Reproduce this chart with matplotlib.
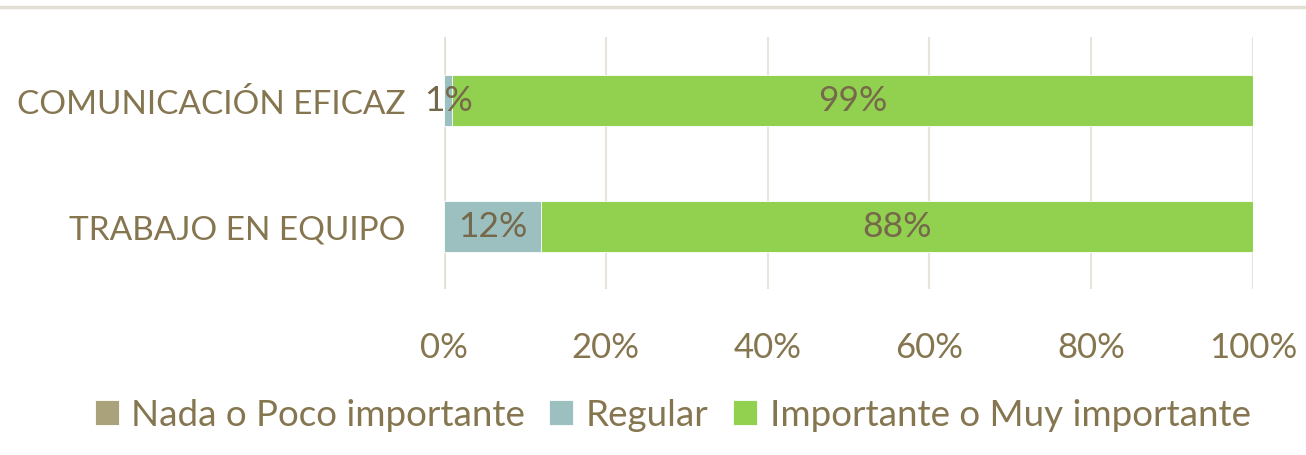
import numpy as np
import matplotlib.pyplot as plt
from matplotlib.ticker import PercentFormatter

categories = ["TRABAJO EN EQUIPO", "COMUNICACIÓN EFICAZ"]
series = ["Nada o Poco importante", "Regular", "Importante o Muy importante"]
nada = [0, 0]
regular = [12, 1]
importante = [88, 99]
colors = ["#A9A27A", "#9CC0BF", "#92D050"]

text_color = "#857650"
label_color = "#76684B"

plt.rcParams["font.family"] = ["Lato", "DejaVu Sans"]

fig = plt.figure(figsize=(13.06, 4.56), dpi=100)
ax = fig.add_axes([0.340, 0.364, 0.6194, 0.5526])

y = np.arange(len(categories))
left = np.zeros(len(categories))
for name, vals, c in zip(series, [nada, regular, importante], colors):
    vals = np.array(vals, dtype=float)
    ax.barh(y, vals, left=left, height=0.405, color=c, label=name,
            edgecolor="white", linewidth=0.6, zorder=3)
    for yi, v, l in zip(y, vals, left):
        if v > 0:
            ax.text(l + v / 2, yi, f"{v:.0f}%", ha="center", va="center",
                    fontsize=25.5, color=label_color, zorder=4)
    left += vals

ax.set_xlim(0, 100)
ax.set_ylim(-0.5, 1.5)
ax.set_xticks(np.arange(0, 101, 20))
ax.xaxis.set_major_formatter(PercentFormatter(decimals=0))
ax.set_yticks(y)
ax.set_yticklabels(categories)
ax.tick_params(axis="x", length=0, pad=30, labelsize=25, labelcolor=text_color)
ax.tick_params(axis="y", length=0, pad=28, labelsize=24, labelcolor=text_color)
ax.grid(axis="x", color="#E8E4DC", linewidth=1.5, zorder=0)
for s in ax.spines.values():
    s.set_visible(False)
ax.axvline(0, color="#DDD8CC", linewidth=2, zorder=1)

fig.add_artist(plt.Line2D([0, 1], [1 - 8 / 456, 1 - 8 / 456], color="#E3DFD4",
                          linewidth=2.5, transform=fig.transFigure))

fig.legend(loc="center", bbox_to_anchor=(0.515, 0.088), ncol=3, frameon=False,
           fontsize=26.5, labelcolor=text_color, handlelength=0.65,
           handleheight=0.65, handletextpad=0.35, columnspacing=0.65)

fig.savefig("out.png", dpi=100)
